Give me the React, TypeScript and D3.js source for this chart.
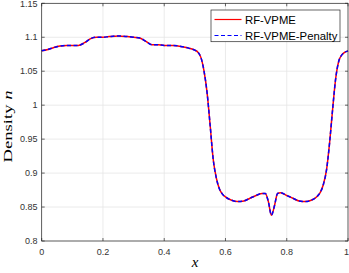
import React, { useEffect, useRef } from "react";
import * as d3 from "d3";

// position x and density n
const xs = [
  0, 0.02, 0.04, 0.06, 0.08, 0.1, 0.12, 0.14, 0.16, 0.18, 0.2, 0.22, 0.25, 0.28, 0.3,
  0.32, 0.34, 0.36, 0.38, 0.4, 0.43, 0.46, 0.48, 0.5, 0.51, 0.52, 0.53, 0.54, 0.55,
  0.56, 0.57, 0.58, 0.59, 0.6, 0.62, 0.64, 0.66, 0.68, 0.7, 0.72, 0.73, 0.74, 0.75,
  0.76, 0.77, 0.78, 0.8, 0.82, 0.84, 0.86, 0.88, 0.9, 0.91, 0.92, 0.93, 0.94, 0.95,
  0.96, 0.97, 0.98, 0.99, 1.0,
];
const densityRF = [
  1.08, 1.082, 1.085, 1.087, 1.088, 1.088, 1.088, 1.092, 1.098, 1.1, 1.1, 1.101, 1.102,
  1.101, 1.1, 1.099, 1.094, 1.089, 1.089, 1.088, 1.088, 1.086, 1.084, 1.081, 1.078,
  1.07, 1.05, 1.018, 0.97, 0.92, 0.893, 0.877, 0.869, 0.865, 0.86, 0.858, 0.859, 0.863,
  0.867, 0.87, 0.87, 0.858, 0.838, 0.852, 0.87, 0.871, 0.867, 0.863, 0.859, 0.858,
  0.86, 0.866, 0.872, 0.884, 0.905, 0.945, 0.995, 1.04, 1.065, 1.074, 1.078, 1.08,
];
// penalty run lies on top of the plain run
const densityPenalty = densityRF.slice();

const xTicks = [0, 0.2, 0.4, 0.6, 0.8, 1];
const yTicks = [0.8, 0.85, 0.9, 0.95, 1, 1.05, 1.1, 1.15];
const seriesNames = ["RF-VPME", "RF-VPME-Penalty"];

export default function App() {
  const ref = useRef<SVGSVGElement>(null);

  useEffect(() => {
    if (!ref.current) return;
    const svg = d3.select(ref.current);
    svg.selectAll("*").remove();

    const left = 41.7, right = 348, top = 3.3, bottom = 241;
    const x = d3.scaleLinear().domain([0, 1]).range([left, right]);
    const y = d3.scaleLinear().domain([0.8, 1.15]).range([bottom, top]);
    const tickFont = "Liberation Sans, Arial, sans-serif";
    const serif = "Liberation Serif, Times New Roman, serif";

    // grid
    const grid = svg.append("g").attr("stroke", "#e6e6e6").attr("stroke-width", 0.8);
    xTicks.forEach(t => {
      grid.append("line").attr("x1", x(t)).attr("x2", x(t)).attr("y1", top).attr("y2", bottom);
    });
    yTicks.forEach(t => {
      grid.append("line").attr("x1", left).attr("x2", right).attr("y1", y(t)).attr("y2", y(t));
    });

    // curves
    const line = d3.line<number>()
      .x((_, i) => x(xs[i]))
      .y(d => y(d))
      .curve(d3.curveMonotoneX);

    svg.append("path")
      .datum(densityRF)
      .attr("fill", "none")
      .attr("stroke", "#ff0000")
      .attr("stroke-width", 1.5)
      .attr("d", line);

    svg.append("path")
      .datum(densityPenalty)
      .attr("fill", "none")
      .attr("stroke", "#0000ff")
      .attr("stroke-width", 1.5)
      .attr("stroke-dasharray", "4,2.5")
      .attr("d", line);

    // box and axes
    const ax = svg.append("g")
      .attr("stroke", "#262626")
      .attr("stroke-width", 0.7)
      .attr("fill", "none");
    ax.append("rect")
      .attr("x", left).attr("y", top)
      .attr("width", right - left).attr("height", bottom - top);

    const tl = 3;
    xTicks.forEach(t => {
      ax.append("line").attr("x1", x(t)).attr("x2", x(t)).attr("y1", bottom).attr("y2", bottom - tl);
      ax.append("line").attr("x1", x(t)).attr("x2", x(t)).attr("y1", top).attr("y2", top + tl);
    });
    yTicks.forEach(t => {
      ax.append("line").attr("x1", left).attr("x2", left + tl).attr("y1", y(t)).attr("y2", y(t));
      ax.append("line").attr("x1", right).attr("x2", right - tl).attr("y1", y(t)).attr("y2", y(t));
    });

    svg.append("g").selectAll("text")
      .data(xTicks)
      .join("text")
      .attr("x", d => (d === 1 ? x(d) - 1.5 : x(d)))
      .attr("y", 255)
      .attr("text-anchor", "middle")
      .attr("font-family", tickFont)
      .attr("font-size", 9)
      .attr("fill", "#333")
      .text(d => String(d));

    svg.append("g").selectAll("text")
      .data(yTicks)
      .join("text")
      .attr("x", 37.5)
      .attr("y", d => y(d) + 3.2)
      .attr("text-anchor", "end")
      .attr("font-family", tickFont)
      .attr("font-size", 9)
      .attr("fill", "#333")
      .text(d => String(d));

    // axis labels
    const yl = svg.append("text")
      .attr("transform", "translate(11.8,126.5) rotate(-90)")
      .attr("text-anchor", "middle")
      .attr("font-family", serif)
      .attr("font-size", 13.5)
      .attr("textLength", 72)
      .attr("lengthAdjust", "spacingAndGlyphs")
      .attr("fill", "#000");
    yl.append("tspan").text("Density ");
    yl.append("tspan").attr("font-style", "italic").text("n");

    svg.append("text")
      .attr("x", 195)
      .attr("y", 267)
      .attr("text-anchor", "middle")
      .attr("font-family", serif)
      .attr("font-style", "italic")
      .attr("font-size", 15)
      .attr("fill", "#000")
      .text("x");

    // legend
    const lg = svg.append("g");
    lg.append("rect")
      .attr("x", 211).attr("y", 10)
      .attr("width", 129).attr("height", 31.7)
      .attr("fill", "#fff")
      .attr("stroke", "#262626")
      .attr("stroke-width", 0.7);
    const rows = [19.5, 35.5];
    const styles = [
      { color: "#ff0000", dash: null },
      { color: "#0000ff", dash: "4,2.5" },
    ];
    seriesNames.forEach((name, i) => {
      lg.append("line")
        .attr("x1", 214.5).attr("x2", 241.5)
        .attr("y1", rows[i]).attr("y2", rows[i])
        .attr("stroke", styles[i].color)
        .attr("stroke-width", 1.2)
        .attr("stroke-dasharray", styles[i].dash);
      lg.append("text")
        .attr("x", 245)
        .attr("y", rows[i] + 4)
        .attr("font-family", tickFont)
        .attr("font-size", 11.3)
        .attr("fill", "#000")
        .text(name);
    });
  }, []);

  return (
    <svg
      ref={ref}
      width="349"
      height="273"
      style={{ position: "absolute", left: 0, top: 0, display: "block", background: "#fff" }}
    ></svg>
  );
}
